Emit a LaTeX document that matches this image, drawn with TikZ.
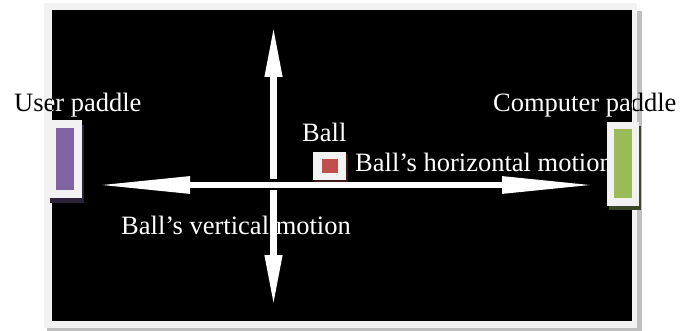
\documentclass[tikz,border=0pt]{standalone}
\usepackage{fontspec}
\setmainfont{Liberation Serif}
\usetikzlibrary{arrows.meta,positioning}
\definecolor{panel}{HTML}{F2F2F2}
\definecolor{edge}{HTML}{BFBFBF}
\definecolor{userpurple}{HTML}{8064A2}
\definecolor{usershade}{HTML}{2C2339}
\definecolor{compgreen}{HTML}{9BBB59}
\definecolor{compshade}{HTML}{3A4624}
\definecolor{ballred}{HTML}{C0504D}
\definecolor{ballshade}{HTML}{3C1B1A}

\begin{document}
\begin{tikzpicture}[x=1pt,y=-1pt,
  txt/.style={text=white,inner sep=0pt,anchor=base west,
              font=\fontsize{26.5}{30}\selectfont},
  box/.style={fill=panel,inner sep=0pt,minimum width=#1},
  bar/.style={inner sep=0pt,minimum width=18pt},
  varr/.style={draw=white,line width=7pt,
               {Triangle[length=52pt,width=16pt]}-{Triangle[length=52pt,width=16pt]}},
  harr/.style={draw=white,line width=6pt,
               {Triangle[length=93pt,width=16pt]}-{Triangle[length=93pt,width=16pt]},
               preaction={draw=black,line width=11pt}}
]
\useasboundingbox (0,0) rectangle (693,331);
\fill[edge] (47,11) rectangle (642,331);
\fill[panel] (44,3) rectangle (637,328);
\fill[black] (52,10) rectangle (632,321);

\coordinate (vtop) at (273.5,25);
\coordinate (vbot) at (273.5,307);
\coordinate (hleft) at (97,185);
\coordinate (hright) at (595,185);
\draw[varr] (vtop) -- (vbot);
\draw[harr] (hleft) -- (hright);

\node[txt,text=black] (userlbl) at (14,112) {User paddle};
\node[txt,text=black] (complbl) at (493,112) {Computer paddle};
\begin{scope}
\clip (52,10) rectangle (632,321);
\node[txt] (userlblw) at (userlbl.base west) {User paddle};
\node[txt] (complblw) at (complbl.base west) {Computer paddle};
\end{scope}
\node[txt] (balllbl) at (302,142) {Ball};
\node[txt] (hlbl) at (355,172) {Ball’s horizontal motion};
\node[txt] (vlbl) at (121,234) {Ball’s vertical motion};

\node[box=33pt,minimum height=28pt,fill=ballshade] (ballsh) at (331.5,168) {};
\node[box=33pt,minimum height=28pt] (ball) at (329.5,166) {};
\node[bar,minimum width=16pt,minimum height=14pt,fill=ballred] (ballsq) at (ball) {};

\node[box=34pt,minimum height=78pt,fill=usershade] (usersh) at (67,164) {};
\node[box=34pt,minimum height=78pt] (user) at (65,159) {};
\node[bar,minimum height=62pt,fill=userpurple] (userbar) at (user) {};

\node[box=32pt,minimum height=84pt,fill=compshade] (compsh) at (625,168) {};
\node[box=32pt,minimum height=84pt] (comp) at (623,164) {};
\node[bar,minimum height=69pt,fill=compgreen] (compbar) at (comp) {};
\end{tikzpicture}
\end{document}
